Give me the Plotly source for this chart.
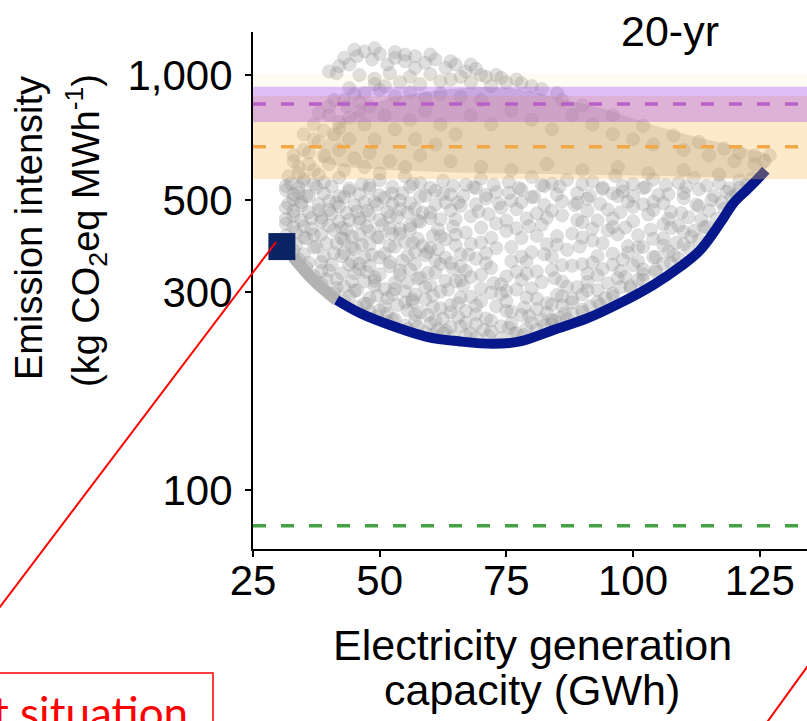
import plotly.graph_objects as go

# ---------------- data ----------------
x_ticks = [25, 50, 75, 100, 125]
y_ticks = [100, 300, 500, 1000]
y_tick_text = ["100", "300", "500", "1,000"]

# lower (sparser) part of the cloud of solutions
lower_x = [
    32.5, 35, 39, 42, 46.5, 50, 55, 58, 62.5, 67, 70, 75.5, 80, 84, 87, 92, 96.5, 100, 104, 109, 112, 117, 121, 123.5,
    31.5, 34, 37, 40.5, 44, 48, 52.5, 56.5, 60, 64.5, 68.5, 72.5, 77.5, 82, 85.5, 90, 94, 98, 102, 106.5, 110.5, 114.5, 119, 122.5,
    31.5, 34, 37.5, 44, 48, 52.5, 56, 61, 64, 69, 73, 78, 82.5, 89, 94, 98, 102.5, 107, 113, 118.5, 121,
    33, 35.5, 39, 42, 46, 50, 54.5, 58, 62.5, 66.5, 71, 75.5, 80, 85, 91.5, 96, 100, 105, 110, 116, 120.5,
    33, 36, 40, 43, 47, 51, 54, 59, 63, 71, 76, 80.5, 86, 91, 97, 104, 110, 115.5, 119.5,
    32, 34.5, 38, 41.5, 45, 49, 52.5, 56, 61, 65.5, 69, 73.5, 78, 82.5, 89, 93.5, 99, 102, 106, 112.5, 117.5,
    31.5, 34.5, 38, 42, 45.5, 49.5, 57, 60, 66, 74, 84, 88.5, 95, 100, 107.5, 113, 118,
    33, 36, 40, 43.5, 47.5, 51.5, 54, 58.5, 64, 69.5, 77, 81, 91, 97.5, 104, 109.5, 115,
    33, 36.5, 40.5, 44, 48, 52, 55.5, 62, 68, 71.5, 79, 86, 93, 103, 111, 116.5,
    31.5, 34.5, 38.5, 42, 46, 50, 53.5, 57.5, 60, 65, 75, 83, 89, 96, 100, 107, 113.5,
    31.5, 35, 38.5, 42.5, 46, 50.5, 54, 58, 64.5, 73, 77, 82, 90, 98.5, 106, 109, 114,
    33, 36.5, 40, 43.5, 47.5, 52, 56, 61.5, 70, 79.5, 92, 96, 103.5, 107.5, 112,
    33.5, 37, 41, 44.5, 48, 52.5, 56, 60.5, 67, 75, 85, 88, 95, 101, 110, 114.5,
    31.5, 35, 38.5, 42.5, 46, 49.5, 54, 57.5, 62, 65, 72, 81, 90, 97, 106, 111.5,
    32, 35.5, 39.5, 43, 46.5, 50, 55, 58.5, 63, 70, 78, 83, 92, 99, 104, 108.5, 113,
    33.5, 37.5, 41.5, 44.5, 48, 52, 56.5, 60, 65, 68, 76, 85, 89.5, 94, 101, 106, 110,
    33, 37, 41, 45, 48.5, 53, 57, 61.5, 66, 73, 80, 87, 96, 102, 107, 111,
    35, 39, 43, 47, 51, 55.5, 59.5, 63, 67.5, 71, 78, 82.5, 93, 99, 104.5, 108,
    34, 38.5, 42.5, 46, 50, 54.5, 59, 64, 69, 76, 84, 90, 98, 104, 109,
    36, 40.5, 44.5, 48, 52, 57, 61, 66, 71, 79, 86, 92, 96, 101, 106,
    35.5, 40, 44, 47.5, 52, 56, 62, 67, 72, 81, 88, 94, 100, 104.5, 107.5,
    38.5, 42.5, 46, 50, 54, 59.5, 64.5, 70, 77, 84, 91, 97.5, 102,
    37, 41.5, 45, 49, 54, 58, 61, 66, 75, 79, 86, 93, 97, 102, 104.5,
    39.5, 44.5, 49, 53, 57.5, 63, 68, 72.5, 78, 84.5, 91, 98.5, 101,
    38.5, 43, 47, 51, 55.5, 60, 65, 70, 74, 82, 89, 95, 99.5, 102,
    41.5, 45.5, 49, 55, 59, 63.5, 66.5, 75, 80, 87, 93, 97.5,
    41, 45, 49.5, 53, 57, 62, 68, 72, 77, 85, 91, 96, 99.5,
    44, 48, 52.5, 56.5, 60.5, 66, 74, 81, 86, 90, 94.5,
    43, 47.5, 51.5, 55, 59, 64, 70, 79, 83, 88, 93, 96,
    47, 51, 56.5, 60.5, 65.5, 69, 75, 78.5, 84, 88, 91.5,
    45.5, 50, 53.5, 58, 62, 67, 73, 76, 81, 86, 90, 93.5,
    48, 51.5, 55.5, 59.5, 64, 69, 75, 79.5, 83, 86.5,
    49.5, 52.5, 57, 61, 65.5, 71, 78, 84, 88, 90,
    53, 57, 62.5, 67, 72, 76, 82, 85.5,
    51.5, 55, 60, 64, 69, 74, 80, 84.5, 87,
    57.5, 61.5, 66, 70.5, 75.5, 79, 82.5,
    55.5, 59, 63, 68, 72, 77, 81, 84,
    62.5, 67, 71.5, 76.5,
    60.5, 64.5, 69, 74, 78.5,
]
lower_y = [
    548, 562, 551, 566, 545, 558, 570, 549, 556, 544, 563, 552, 568, 547, 559, 553, 571, 546, 560, 550, 565, 548, 557, 562,
    540, 536, 545, 539, 533, 542, 538, 547, 535, 541, 537, 544, 534, 543, 539, 546, 536, 540, 534, 543, 538, 541, 533, 545,
    528, 520, 536, 525, 532, 518, 538, 526, 515, 534, 522, 529, 540, 519, 531, 524, 537, 516, 530, 523, 535,
    515, 512, 518, 510, 516, 513, 519, 509, 517, 511, 514, 520, 508, 515, 512, 518, 510, 514, 519, 511, 516,
    502, 510, 497, 508, 494, 506, 499, 512, 493, 504, 498, 509, 496, 503, 511, 495, 505, 500, 507,
    490, 494, 488, 492, 486, 495, 489, 491, 487, 493, 488, 490, 494, 486, 492, 489, 495, 488, 491, 487, 493,
    478, 485, 472, 482, 469, 487, 476, 466, 484, 479, 471, 486, 474, 481, 468, 483, 477,
    470, 467, 473, 465, 471, 468, 474, 466, 472, 469, 475, 464, 470, 467, 473, 465, 471,
    458, 452, 463, 447, 460, 455, 466, 449, 457, 462, 451, 459, 446, 461, 454, 450,
    450, 447, 453, 444, 451, 448, 455, 445, 452, 449, 446, 453, 447, 451, 444, 450, 448,
    438, 432, 444, 428, 441, 435, 425, 443, 431, 439, 427, 436, 442, 429, 437, 433, 430,
    430, 426, 433, 424, 431, 427, 434, 425, 429, 432, 426, 430, 424, 428, 421,
    418, 412, 423, 408, 420, 414, 425, 410, 417, 421, 409, 415, 422, 411, 419, 430,
    410, 406, 413, 404, 411, 407, 414, 403, 409, 412, 405, 410, 406, 413, 404, 408,
    398, 404, 393, 401, 390, 406, 396, 388, 402, 395, 405, 391, 399, 387, 403, 394, 400,
    390, 386, 393, 384, 391, 387, 394, 383, 389, 392, 385, 390, 386, 393, 384, 388, 391,
    378, 384, 372, 381, 369, 386, 375, 380, 370, 383, 374, 379, 371, 385, 376, 382,
    370, 366, 373, 364, 371, 367, 374, 363, 369, 372, 365, 370, 366, 373, 364, 368,
    360, 354, 366, 351, 363, 357, 368, 352, 361, 356, 365, 350, 359, 364, 362,
    353, 349, 356, 347, 354, 350, 357, 346, 352, 355, 348, 353, 349, 356, 351,
    344, 338, 349, 335, 346, 340, 350, 337, 343, 336, 347, 341, 348, 339, 352,
    337, 333, 340, 331, 338, 334, 341, 330, 336, 339, 332, 337, 340,
    328, 322, 333, 319, 330, 325, 334, 320, 327, 332, 318, 329, 324, 331, 335,
    322, 318, 325, 316, 323, 319, 326, 315, 321, 324, 317, 326, 321,
    314, 309, 318, 305, 316, 311, 319, 306, 313, 317, 308, 315, 310, 320,
    307, 303, 310, 301, 308, 304, 311, 302, 306, 309, 303, 308,
    298, 302, 294, 305, 296, 301, 292, 299, 304, 295, 303, 297, 306,
    293, 290, 296, 288, 294, 291, 297, 289, 293, 296, 290,
    286, 281, 290, 283, 288, 279, 285, 291, 282, 289, 284, 292,
    281, 277, 284, 276, 282, 278, 285, 275, 280, 283, 277,
    276, 271, 279, 268, 274, 270, 277, 269, 273, 278, 272, 280,
    269, 266, 271, 264, 268, 265, 270, 263, 267, 266,
    262, 258, 265, 256, 261, 259, 264, 257, 266, 268,
    258, 255, 259, 253, 256, 252, 257, 260,
    254, 249, 252, 247, 251, 248, 253, 255, 258,
    247, 244, 248, 243, 246, 245, 249,
    244, 240, 242, 238, 241, 239, 243, 250,
    239, 236, 235, 238,
    237, 234, 233, 232, 236,
]

# upper part of the cloud (discrete points, mostly near its edges)
upper_x = [41.5, 44, 45.5, 47, 48.5, 50, 51.5, 53, 55, 57, 59, 61, 63, 65, 67, 69, 71, 73, 75, 77,
           46, 49, 52, 56, 60, 64, 68, 72, 44, 47, 50, 53, 56, 59, 62, 66, 70, 41, 43.5, 46,
           40, 42, 37, 35, 38, 41, 44, 36, 33, 39, 42, 45, 48, 34, 37, 40, 43, 47, 50, 32,
           35, 52, 55, 58, 49, 53, 56, 47, 51, 59, 62, 57, 61, 65, 68, 72, 76, 80, 84, 88,
           92, 96, 100, 104, 110, 115, 120, 124, 64, 70, 76, 83, 90, 97, 103, 110, 117,
           34, 36, 38, 33, 35, 37, 39, 42, 44, 46, 48, 43, 40, 38, 45, 49, 51, 54, 58, 62,
           66, 70, 74, 78, 80, 82, 85, 57, 53, 49, 45, 43, 55, 60, 64, 68, 42, 40,
           126, 127, 124, 121, 118, 113, 108, 102, 96, 90, 86]
upper_y = [1010, 1060, 1110, 1140, 1090, 1125, 1060, 1100, 1080, 1110, 1070, 1090, 1040, 1060, 1020, 1035, 990, 1000, 960, 975,
           1000, 980, 1010, 990, 1005, 975, 960, 940, 930, 905, 920, 890, 910, 880, 900, 885, 870, 870, 840, 860,
           800, 770, 760, 720, 690, 720, 700, 650, 640, 640, 660, 630, 650, 600, 590, 610, 590, 600, 580, 570,
           555, 620, 600, 640, 700, 740, 780, 760, 800, 820, 760, 700, 680, 720, 800, 760, 820, 780, 740, 800,
           760, 720, 700, 680, 660, 640, 620, 610, 620, 600, 590, 610, 590, 600, 580, 590, 575,
           580, 610, 575, 620, 660, 700, 735, 745, 790, 820, 840, 870, 840, 810, 900, 950, 940, 960, 950, 965,
           990, 1000, 985, 955, 940, 925, 905, 1040, 1135, 1160, 1150, 1100, 1120, 1120, 1080, 1060, 1050, 1020,
           620, 640, 640, 650, 665, 690, 715, 755, 800, 845, 870]

# densely covered zone of the cloud (outline)
dense_x = [38, 40, 43, 47, 52, 58, 64, 70, 76, 82, 88, 94, 100, 106, 112, 118, 123, 126.8, 127.2,
           126.5, 125, 120, 110, 95, 80, 65, 52, 43, 38]
dense_y = [640, 720, 790, 840, 880, 905, 925, 935, 930, 900, 865, 830, 785, 745, 712, 683, 662, 645, 625,
           600, 575, 565, 570, 575, 578, 582, 590, 600, 615]

# lower frontier (grey part, then dark blue Pareto front)
front_grey_x = [32.9, 36.9, 41.5]
front_grey_y = [365, 321, 287]
front_x = [41.5, 46.1, 52.7, 59.3, 65.9, 72.4, 77.7, 84.3, 90.9, 97.4, 104, 109.3, 113.2, 117.2, 119.8, 122.4, 124.5, 126.2]
front_y = [287, 267, 248, 234, 228, 225, 228, 243, 259, 282, 312, 345, 378, 440, 491, 528, 560, 590]

# current situation
current_x = [30.7]
current_y = [386]

# reference bands and lines (kg CO2eq/MWh)
band_orange = (561, 891)
band_purple = (770, 937)
band_cream = (937, 1005)
line_purple = 851
line_orange = 672
line_green = 82

# ---------------- layout geometry ----------------
W, H = 807, 721
L, R, T, B = 253, 0, 32, 172
PW, PH = W - L - R, H - T - B


def px(xp):
    return (xp - L) / PW


def py(yp):
    return (H - B - yp) / PH


FONT = "Liberation Sans, Arial, sans-serif"

fig = go.Figure()

fig.add_trace(go.Scatter(x=dense_x, y=dense_y, mode="lines", fill="toself",
                         fillcolor="rgba(175,175,175,0.42)", line=dict(width=0),
                         hoverinfo="skip", showlegend=False))

for xs, ys in ((lower_x, lower_y), (upper_x, upper_y)):
    fig.add_trace(go.Scatter(
        x=xs, y=ys, mode="markers", showlegend=False,
        marker=dict(size=13, color="rgb(150,150,150)", opacity=0.3,
                    line=dict(width=0.8, color="rgb(120,120,120)"))))

fig.add_trace(go.Scatter(x=front_grey_x, y=front_grey_y, mode="lines", showlegend=False,
                         line=dict(color="rgb(178,178,178)", width=12, shape="spline")))
fig.add_trace(go.Scatter(x=front_x, y=front_y, mode="lines", showlegend=False,
                         line=dict(color="#06188a", width=10, shape="spline")))
fig.add_trace(go.Scatter(x=current_x, y=current_y, mode="markers", showlegend=False,
                         marker=dict(symbol="square", size=27, color="#0a2463")))

shapes = []
for (lo, hi), col in ((band_cream, "rgba(245,200,110,0.08)"),
                      (band_orange, "rgba(245,190,90,0.32)"),
                      (band_purple, "rgba(165,75,235,0.36)")):
    shapes.append(dict(type="rect", xref="paper", yref="y", x0=0, x1=1, y0=lo, y1=hi,
                       fillcolor=col, line=dict(width=0), layer="above"))
for val, col in ((line_purple, "rgb(185,95,200)"), (line_orange, "rgb(242,168,72)"),
                 (line_green, "rgb(70,160,70)")):
    shapes.append(dict(type="line", xref="paper", yref="y", x0=0, x1=1, y0=val, y1=val,
                       line=dict(color=col, width=3.5, dash="13px,15px"), layer="above"))

# red call-out elements of the surrounding figure
RED = "rgb(255,0,0)"
shapes.append(dict(type="line", xref="paper", yref="paper", x0=px(276), y0=py(242),
                   x1=px(-10), y1=py(620), line=dict(color=RED, width=2)))
shapes.append(dict(type="rect", xref="paper", yref="paper", x0=px(-10), y0=py(673),
                   x1=px(213), y1=py(760), line=dict(color=RED, width=1.5)))
shapes.append(dict(type="line", xref="paper", yref="paper", x0=px(812), y0=py(660),
                   x1=px(760), y1=py(732), line=dict(color=RED, width=2)))

annotations = [
    dict(text="20-yr", x=px(619), y=py(31), xref="paper", yref="paper", xanchor="left",
         yanchor="middle", showarrow=False, font=dict(size=43, color="black", family=FONT)),
    dict(text="Electricity generation", x=px(532), y=py(645), xref="paper", yref="paper",
         xanchor="center", yanchor="middle", showarrow=False,
         font=dict(size=43, color="black", family=FONT)),
    dict(text="capacity (GWh)", x=px(532), y=py(690), xref="paper", yref="paper",
         xanchor="center", yanchor="middle", showarrow=False,
         font=dict(size=43, color="black", family=FONT)),
    dict(text="Emission intensity", x=px(29), y=py(228), xref="paper", yref="paper",
         xanchor="center", yanchor="middle", textangle=-90, showarrow=False,
         font=dict(size=38, color="black", family=FONT)),
    dict(text="(kg CO<sub>2</sub>eq MWh<sup>-1</sup>)", x=px(86), y=py(231), xref="paper",
         yref="paper", xanchor="center", yanchor="middle", textangle=-90, showarrow=False,
         font=dict(size=38, color="black", family=FONT)),
    dict(text="t situation", x=px(190), y=py(712), xref="paper", yref="paper",
         xanchor="right", yanchor="middle", showarrow=False,
         font=dict(size=44, color=RED, family="Lato, Noto Sans, sans-serif")),
]

fig.update_layout(
    width=W, height=H, margin=dict(l=L, r=R, t=T, b=B, pad=0),
    paper_bgcolor="white", plot_bgcolor="white",
    shapes=shapes, annotations=annotations, showlegend=False,
    font=dict(family=FONT, color="black"),
)
fig.update_xaxes(range=[25, 25 + PW / 5.067], showgrid=False, zeroline=False,
                 showline=True, linecolor="black", linewidth=2,
                 ticks="outside", ticklen=6, tickwidth=2, tickcolor="black",
                 tickvals=x_ticks, ticklabelstandoff=-12,
                 tickfont=dict(size=42, family=FONT, color="black"))
ylo = 3 - (H - B - 75) / 415
yhi = 3 + (75 - T) / 415
fig.update_yaxes(type="log", range=[ylo, yhi], showgrid=False, zeroline=False,
                 showline=True, linecolor="black", linewidth=2,
                 ticks="outside", ticklen=6, tickwidth=2, tickcolor="black",
                 tickvals=y_ticks, ticktext=y_tick_text, ticklabelstandoff=4,
                 tickfont=dict(size=42, family=FONT, color="black"))

fig.write_html("out.html")
